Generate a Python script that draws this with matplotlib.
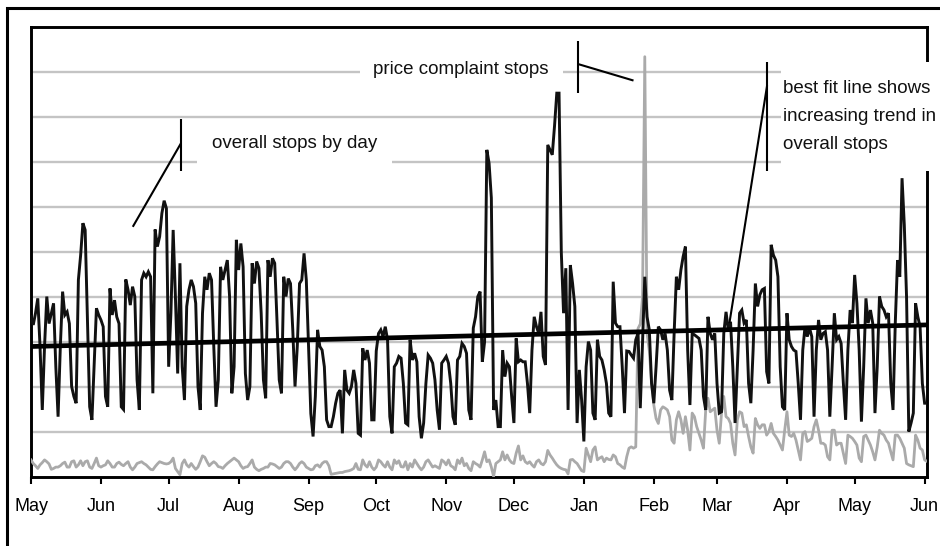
import matplotlib
matplotlib.use("Agg")
import matplotlib.pyplot as plt
import matplotlib.dates as mdates
from matplotlib.patches import Rectangle
import pandas as pd

plt.rcParams['font.family'] = ['Liberation Sans', 'DejaVu Sans']

# ---------------- data ----------------
start_date = "2012-05-01"

overall_stops = [
    35.6, 33.8, 36.4, 39.7, 29.0, 14.9, 29.0, 40.1, 34.1, 36.4, 38.6, 24.5, 13.4, 29.0,
    41.2, 36.0, 36.7, 34.1, 20.1, 17.9, 16.4, 43.8, 49.3, 56.4, 54.9, 34.9, 15.6, 12.7,
    25.3, 37.5, 36.0, 34.9, 33.4, 17.9, 15.6, 41.9, 36.0, 39.3, 35.6, 34.1, 15.6, 15.0,
    43.9, 41.6, 38.2, 42.3, 40.1, 21.6, 14.9, 43.8, 45.3, 44.5, 45.6, 44.5, 18.6, 55.0,
    51.2, 53.4, 58.6, 61.4, 59.7, 24.5, 36.4, 54.9, 40.0, 23.0, 47.5, 24.5, 17.1, 37.9,
    41.6, 43.8, 42.3, 38.6, 20.1, 14.9, 36.4, 44.5, 41.6, 45.3, 43.8, 29.0, 15.6, 21.6,
    46.7, 43.8, 46.0, 48.2, 40.1, 18.6, 24.5, 52.7, 46.0, 51.9, 46.7, 23.0, 17.1, 20.1,
    47.5, 43.0, 47.9, 46.4, 36.4, 21.6, 17.5, 48.2, 44.5, 48.6, 47.5, 34.9, 21.6, 18.6,
    44.5, 40.1, 44.1, 43.0, 32.7, 20.1, 29.0, 43.0, 43.8, 49.7, 43.8, 29.0, 14.1, 9.0,
    17.9, 32.7, 29.0, 28.2, 24.5, 12.7, 11.2,
    11.2, 13.4, 16.4, 18.6, 19.3, 9.7, 23.8, 19.3, 18.6, 20.1, 23.8, 20.8, 9.7, 9.3,
    28.6, 26.0, 28.2, 25.3, 12.7, 12.7, 28.0, 31.9, 32.7, 31.2, 33.4, 30.5, 13.4, 9.7,
    24.5, 25.3, 26.8, 26.4, 20.8, 12.0, 11.6, 30.5, 26.0, 27.5, 25.6, 13.4, 8.6, 12.0,
    20.8, 27.1, 26.4, 25.3, 21.6, 14.9, 10.5, 25.3, 26.0, 26.8, 25.3, 20.8, 13.4, 11.6,
    26.0, 26.8, 29.7, 29.0, 27.5, 14.9, 12.7, 33.1, 35.6, 40.1, 41.2, 25.6, 30.0, 72.7,
    69.7, 62.0, 14.9, 17.1, 11.2, 11.2, 28.2, 22.3, 25.3, 24.5, 17.9, 12.0, 30.8, 25.6,
    26.0, 25.6, 25.6, 20.8, 14.2, 28.2, 35.6, 33.4, 31.9, 36.7, 26.8, 24.9, 73.8, 72.7,
    71.6, 78.0, 85.3, 85.3, 50.0, 36.4, 46.4, 14.9, 47.1, 43.0, 37.9, 12.0, 23.8, 17.1,
    7.9, 24.5, 30.1, 28.2, 14.2, 12.7, 30.5, 26.8, 26.0, 23.8, 20.8, 14.2, 13.4, 43.4,
    34.2, 33.4, 33.4, 24.5, 14.2, 28.0,
    27.9, 27.1, 26.4, 30.5, 31.9, 15.3, 30.0, 44.5, 35.6, 32.7, 20.8, 16.4, 24.5, 33.4,
    32.7, 30.5, 31.9, 28.2, 19.3, 17.1, 31.9, 44.5, 41.6, 46.0, 49.0, 51.2, 28.2, 16.0,
    31.9, 31.6, 31.2, 30.8, 28.2, 17.9, 14.9, 35.6, 31.9, 30.5, 31.9, 20.8, 14.2, 14.5,
    31.9, 36.7, 32.7, 34.5, 24.5, 12.0, 24.5, 36.4, 37.1, 34.2, 34.9, 20.8, 16.4, 28.2,
    43.0, 37.9, 40.5, 41.6, 41.9, 23.4, 20.8, 51.6, 49.3, 48.2, 44.5, 24.5, 15.6, 14.9,
    36.4, 30.5, 29.0, 28.2, 27.9, 20.8, 12.7, 28.2, 33.4, 31.2, 33.1, 31.2, 13.4, 28.2,
    34.9, 30.5, 31.9, 32.3, 28.2, 13.4, 24.5, 36.4, 30.5, 31.2, 29.7, 20.8, 12.7, 28.2,
    37.1, 34.2, 44.9, 38.6, 28.2, 12.3, 24.5, 39.7, 34.2, 37.1, 34.2, 14.2, 24.5, 40.1,
    37.9, 37.1, 35.6, 36.4, 20.8, 14.9, 34.2, 48.2, 44.5, 66.4, 56.0, 40.0, 10.1, 12.0,
    14.2, 38.6, 35.6, 33.4, 20.8, 16.4, 16.4,
]

price_complaint_stops = [
    3.8, 3.0, 2.5, 1.9, 2.7, 3.2, 3.8, 3.4, 2.9, 1.7, 1.9, 2.2, 2.2, 2.5,
    3.0, 3.3, 2.2, 2.2, 3.4, 3.6, 2.2, 2.7, 3.6, 2.5, 3.4, 3.6, 2.2, 1.9,
    3.0, 4.2, 2.5, 2.2, 2.5, 2.7, 3.6, 3.0, 2.2, 2.2, 3.0, 3.3, 2.8, 2.5,
    3.0, 3.4, 2.2, 1.6, 2.2, 3.0, 3.2, 3.4, 3.0, 2.7, 2.2, 1.7, 1.6, 2.3,
    2.9, 3.4, 3.2, 3.0, 2.9, 3.0, 3.4, 4.2, 1.9, 1.2, 0.5, 3.0, 3.8, 2.7,
    2.2, 3.0, 2.3, 1.7, 2.2, 3.4, 4.7, 4.4, 3.4, 2.5, 3.0, 3.4, 3.0, 2.3,
    2.2, 1.9, 2.5, 3.0, 3.4, 3.8, 4.2, 3.8, 3.4, 2.5, 1.9, 2.2, 2.3, 3.0,
    3.8, 2.2, 1.7, 1.4, 1.7, 1.9, 2.2, 2.2, 3.0, 2.9, 2.7, 2.3, 1.9, 2.2,
    3.0, 3.4, 3.4, 3.0, 2.2, 1.6, 2.2, 3.0, 3.4, 3.0, 2.2, 1.9, 1.6, 1.7,
    2.5, 2.7, 2.2, 3.0, 3.4, 3.4, 2.5,
    0.6, 0.7, 0.8, 0.9, 1.0, 1.0, 1.2, 1.3, 1.4, 1.6, 1.9, 3.0, 1.7, 1.6,
    3.8, 2.7, 2.2, 3.4, 2.2, 1.6, 2.2, 3.8, 3.4, 2.7, 2.2, 3.4, 2.2, 1.6,
    3.8, 3.0, 3.6, 2.3, 2.2, 3.4, 1.6, 3.0, 2.2, 3.8, 3.0, 2.2, 1.6, 2.2,
    3.4, 3.8, 3.0, 2.2, 2.5, 2.2, 1.9, 3.8, 3.4, 2.7, 3.8, 2.5, 2.2, 1.6,
    3.8, 3.0, 4.2, 2.5, 3.0, 1.9, 1.4, 3.4, 3.0, 2.7, 2.2, 3.8, 5.6, 3.4,
    3.8, 2.2, 0.1, 3.0, 3.4, 3.8, 5.6, 3.8, 4.9, 3.8, 3.2, 3.0, 5.3, 6.9,
    3.8, 4.7, 3.4, 3.0, 3.4, 2.7, 2.2, 3.4, 3.8, 3.0, 2.7, 3.4, 5.9, 4.9,
    4.2, 3.4, 2.7, 2.2, 1.9, 1.7, 1.6, 0.7, 3.8, 3.9, 3.4, 3.0, 2.2, 1.4,
    1.2, 6.4, 4.9, 3.4, 6.0, 6.7, 3.8, 4.2, 4.5, 3.4, 4.2, 3.9, 3.8, 4.9,
    4.5, 3.0, 2.7, 2.2, 1.9, 4.5,
    6.4, 6.7, 6.4, 6.7, 33.0, 34.0, 40.0, 93.4, 32.0, 28.0, 21.0, 16.0, 13.0, 11.9,
    14.9, 15.6, 15.3, 14.9, 13.4, 8.2, 7.5, 12.7, 14.5, 12.7, 9.7, 13.4, 10.4, 6.0,
    14.2, 13.4, 11.2, 9.7, 8.2, 6.4, 14.9, 17.5, 14.5, 14.9, 15.3, 10.4, 7.5, 14.2,
    17.9, 13.4, 13.0, 11.9, 7.5, 4.9, 12.7, 14.5, 14.2, 11.2, 11.6, 9.0, 6.7, 5.3,
    13.0, 11.6, 10.8, 11.6, 11.6, 9.3, 10.1, 11.9, 9.7, 9.0, 8.2, 7.1, 6.0, 10.4,
    14.5, 9.3, 9.0, 9.7, 8.2, 6.0, 3.8, 9.7, 10.1, 7.9, 8.2, 8.6, 11.2, 12.7,
    10.4, 7.5, 7.5, 7.1, 4.5, 3.8, 10.4, 10.4, 7.1, 7.5, 7.5, 5.3, 3.0, 9.3,
    9.0, 8.6, 7.9, 7.1, 4.2, 3.4, 9.0, 9.3, 8.2, 7.1, 5.6, 3.8, 6.7, 10.4,
    9.7, 9.3, 8.2, 7.5, 5.6, 3.8, 9.3, 9.3, 8.6, 7.5, 6.4, 3.0, 2.7, 2.5,
    2.3, 9.3, 8.2, 6.4, 6.0, 3.8, 3.5,
]

# best-fit line values at the first and last day
trend_values = [29.0, 33.8]

month_labels = ["May", "Jun", "Jul", "Aug", "Sep", "Oct", "Nov", "Dec",
                "Jan", "Feb", "Mar", "Apr", "May", "Jun"]

ann_overall = "overall stops by day"
ann_price = "price complaint stops"
ann_trend = "best fit line shows\nincreasing trend in\noverall stops"

# ---------------- plotting ----------------
dates = pd.date_range(start_date, periods=len(overall_stops), freq="D")
dates_gray = pd.date_range(start_date, periods=len(price_complaint_stops), freq="D")
t0 = pd.Timestamp(start_date)

def day(d):
    return t0 + pd.Timedelta(days=d)

fig = plt.figure(figsize=(9.40, 5.46), dpi=100)
ax = fig.add_axes([31 / 940, 69 / 546, 896 / 940, 450 / 546])

ax.set_axisbelow(True)
ax.set_ylim(0, 100)
ax.set_yticks(range(10, 100, 10))
ax.yaxis.grid(True, color="#c4c4c4", lw=1.7)
ax.tick_params(axis="y", length=0, labelleft=False)

ax.plot(dates_gray, price_complaint_stops, color="#aaaaaa", lw=2.0, zorder=3)
ax.plot(dates, overall_stops, color="#111111", lw=2.1, zorder=3.1,
        solid_joinstyle="miter")
ax.plot([dates[0], dates[-1]], trend_values, color="black", lw=3.4, zorder=3.2)

ax.set_xlim(t0, t0 + pd.Timedelta(days=397.06))
tick_dates = pd.date_range(start_date, periods=len(month_labels), freq="MS")
ax.set_xticks(tick_dates)
ax.set_xticklabels(month_labels)
ax.tick_params(axis="x", direction="out", length=5, width=1.5, pad=10,
               labelsize=13, colors="black")

for s in ax.spines.values():
    s.set_linewidth(2.1)
    s.set_color("black")
    s.set_zorder(2.5)

# white backgrounds behind annotations
def white_box(d0, d1, v0, v1):
    x0 = mdates.date2num(day(d0))
    x1 = mdates.date2num(day(d1))
    ax.add_patch(Rectangle((x0, v0), x1 - x0, v1 - v0, facecolor="white",
                           edgecolor="none", zorder=2.7, clip_on=False))

white_box(73.6, 160.0, 68.0, 79.6)
white_box(145.8, 235.8, 85.6, 96.9)
white_box(332.4, 410.0, 67.9, 92.2)

txt_kw = dict(fontsize=13.5, color="#111111", zorder=5, ha="left", va="center")
ax.text(day(80.2), 74.2, ann_overall, **txt_kw)
ax.text(day(151.7), 90.6, ann_price, **txt_kw)
ax.text(day(333.3), 80.2, ann_trend, linespacing=1.85, clip_on=False, **txt_kw)

line_kw = dict(color="black", lw=1.5, zorder=4, clip_on=False,
               solid_capstyle="butt")
# callout 1
ax.plot([day(66.5), day(66.5)], [68.0, 79.6], **line_kw)
ax.plot([day(66.5), day(45.1)], [74.2, 55.6], **line_kw)
# callout 2
ax.plot([day(242.2), day(242.2)], [85.4, 96.96], **line_kw)
ax.plot([day(242.2), day(267.0)], [91.8, 88.1], **line_kw)
# callout 3
ax.plot([day(326.2), day(326.2)], [67.9, 92.3], **line_kw)
ax.plot([day(326.2), day(309.5)], [87.0, 34.2], **line_kw)

# outer frame
fig.patches.append(Rectangle((7.5 / 940, -0.1), 1.2, 1 - 7.5 / 546 + 0.1,
                             transform=fig.transFigure, fill=False,
                             edgecolor="black", lw=2.2, zorder=10))

fig.savefig("out.png", dpi=100)
